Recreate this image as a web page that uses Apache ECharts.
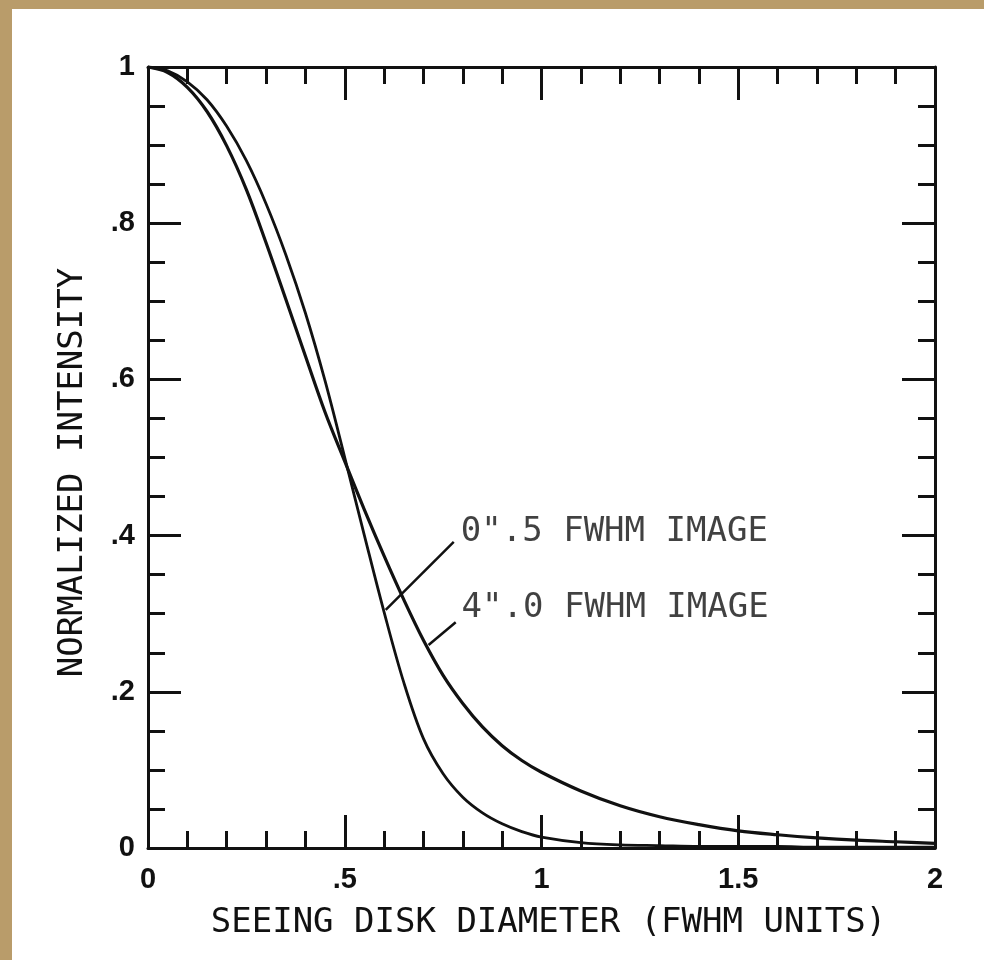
<!DOCTYPE html>
<html>
<head>
<meta charset="utf-8">
<script src="https://cdn.jsdelivr.net/npm/echarts@6/dist/echarts.min.js"></script>
<style>
html,body{margin:0;padding:0;background:#fff;}
#c{width:984px;height:960px;}
</style>
</head>
<body>
<div id="c"></div>
<script>
// ---- data ----
const xs = [0,0.05,0.10,0.15,0.20,0.25,0.30,0.35,0.40,0.45,0.50,0.55,0.60,0.65,0.70,0.75,0.80,0.85,0.90,0.95,1.00,1.10,1.20,1.30,1.40,1.50,1.60,1.70,1.80,1.90,2.00];
// 0".5 FWHM image (steeper profile)
const seeing05 = [1.000,0.995,0.981,0.958,0.924,0.880,0.825,0.760,0.685,0.598,0.500,0.400,0.302,0.212,0.140,0.095,0.065,0.045,0.031,0.021,0.014,0.007,0.004,0.003,0.002,0.002,0.002,0.001,0.001,0.001,0.001];
// 4".0 FWHM image (long-tailed profile)
const seeing40 = [1.000,0.993,0.974,0.943,0.899,0.843,0.775,0.703,0.630,0.558,0.495,0.433,0.374,0.318,0.266,0.221,0.185,0.155,0.131,0.112,0.097,0.073,0.054,0.040,0.030,0.022,0.017,0.013,0.010,0.008,0.006];
const xTicks = [0, 0.5, 1, 1.5, 2];
const yTicks = [0, 0.2, 0.4, 0.6, 0.8, 1];
const xTitle = 'SEEING DISK DIAMETER (FWHM UNITS)';
const yTitle = 'NORMALIZED INTENSITY';
// annotation labels with leader lines (data coordinates)
const labelTexts = ['0".5 FWHM IMAGE', '4".0 FWHM IMAGE'];
const labelAnchors = [[0.795, 0.405], [0.797, 0.307]];
const leaderLines = [
  [[0.604, 0.305], [0.777, 0.392]],
  [[0.713, 0.260], [0.782, 0.289]]
];

const fmt = v => {
  if (v === 0) return '0';
  let s = String(+v.toFixed(2));
  return s.startsWith('0.') ? s.slice(1) : s;
};

const chart = echarts.init(document.getElementById('c'), null, {renderer: 'canvas'});
const mono = '"DejaVu Sans Mono", monospace';
const tickFont = {fontFamily: '"Liberation Sans", Arial, sans-serif', fontWeight: 'bold', fontSize: 29, color: '#111'};

const baseAxis = {
  type: 'value',
  axisLine: {show: true, onZero: false, lineStyle: {color: '#111', width: 3}},
  axisTick: {show: true, inside: true, length: 33, lineStyle: {color: '#111', width: 3}},
  minorTick: {show: true, length: 17, lineStyle: {color: '#111', width: 3}},
  splitLine: {show: false},
  minorSplitLine: {show: false}
};

chart.setOption({
  animation: false,
  backgroundColor: '#ffffff',
  grid: {left: 148, right: 49, top: 67, bottom: 112, containLabel: false},
  graphic: [
    {type: 'rect', shape: {x: 0, y: 0, width: 984, height: 9}, style: {fill: '#b99c6a'}, silent: true, z: -10},
    {type: 'rect', shape: {x: 0, y: 0, width: 12, height: 960}, style: {fill: '#b99c6a'}, silent: true, z: -10}
  ],
  xAxis: [
    Object.assign({}, baseAxis, {
      position: 'bottom', min: xTicks[0], max: xTicks[xTicks.length - 1], interval: 0.5,
      minorTick: Object.assign({}, baseAxis.minorTick, {splitNumber: 5}),
      axisLabel: Object.assign({}, tickFont, {margin: 17, formatter: fmt}),
      name: xTitle, nameLocation: 'middle', nameGap: 58,
      nameTextStyle: {fontFamily: mono, fontSize: 34, color: '#111', padding: [0, 0, 0, 14]}
    }),
    Object.assign({}, baseAxis, {
      position: 'top', min: xTicks[0], max: xTicks[xTicks.length - 1], interval: 0.5,
      minorTick: Object.assign({}, baseAxis.minorTick, {splitNumber: 5}),
      axisLabel: {show: false}
    })
  ],
  yAxis: [
    Object.assign({}, baseAxis, {
      position: 'left', min: yTicks[0], max: yTicks[yTicks.length - 1], interval: 0.2,
      minorTick: Object.assign({}, baseAxis.minorTick, {splitNumber: 4}),
      axisLabel: Object.assign({}, tickFont, {margin: 13, formatter: fmt}),
      name: yTitle, nameLocation: 'middle', nameGap: 58, nameRotate: 90,
      nameTextStyle: {fontFamily: mono, fontSize: 34, color: '#111', padding: [0, 30, 0, 0]}
    }),
    Object.assign({}, baseAxis, {
      position: 'right', min: yTicks[0], max: yTicks[yTicks.length - 1], interval: 0.2,
      minorTick: Object.assign({}, baseAxis.minorTick, {splitNumber: 4}),
      axisLabel: {show: false}
    })
  ],
  series: [
    {
      name: labelTexts[0], type: 'line', smooth: 0.35, showSymbol: false,
      data: xs.map((x, i) => [x, seeing05[i]]),
      lineStyle: {color: '#111', width: 2.8}
    },
    {
      name: labelTexts[1], type: 'line', smooth: 0.35, showSymbol: false,
      data: xs.map((x, i) => [x, seeing40[i]]),
      lineStyle: {color: '#111', width: 3.2}
    },
    {
      type: 'lines', coordinateSystem: 'cartesian2d', polyline: false,
      data: leaderLines.map(c => ({coords: c})),
      lineStyle: {color: '#111', width: 2.5, opacity: 1},
      symbol: 'none', silent: true
    },
    {
      type: 'scatter', symbolSize: 0, silent: true,
      data: labelAnchors.map((p, i) => ({value: p, name: labelTexts[i]})),
      label: {show: true, position: 'right', distance: 0, formatter: p => p.name,
        fontFamily: mono, fontSize: 34, color: '#111', align: 'left', verticalAlign: 'middle'}
    }
  ]
});
</script>
</body>
</html>
